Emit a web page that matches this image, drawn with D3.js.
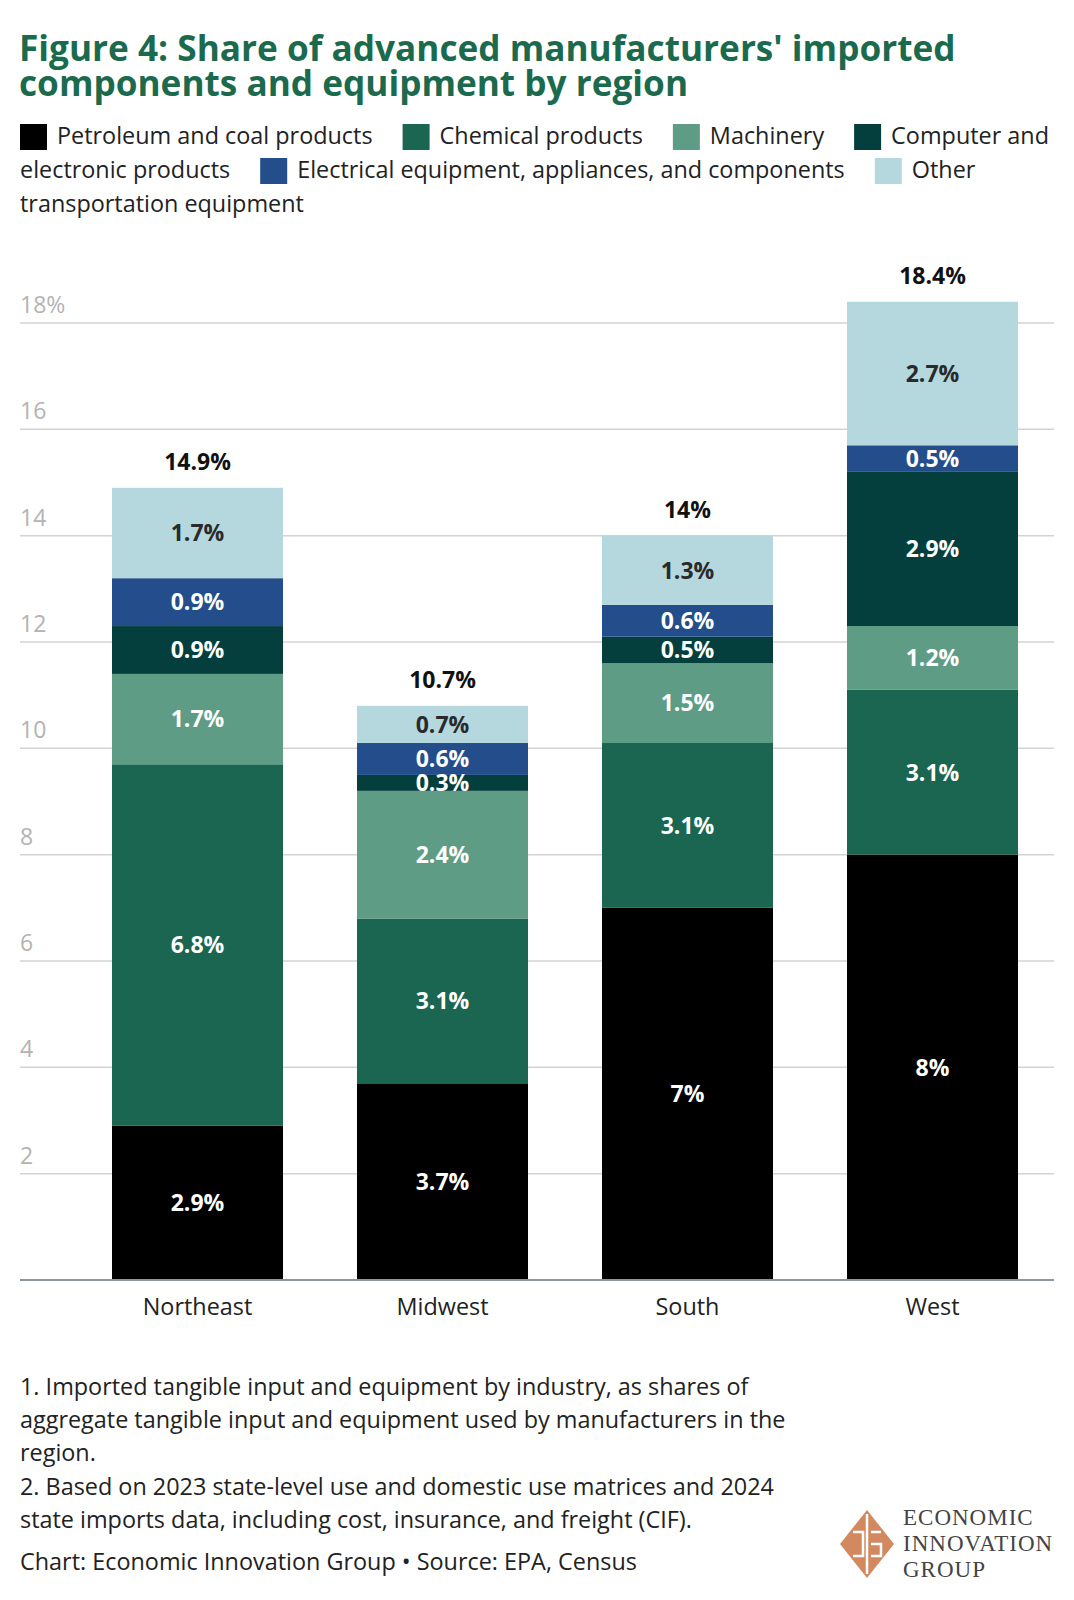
<!DOCTYPE html>
<html>
<head>
<meta charset="utf-8">
<script src="https://cdn.jsdelivr.net/npm/d3@7"></script>
<style>
  body { margin: 0; background: #fff; }
  svg text { font-family: "Open Sans", sans-serif; }
</style>
</head>
<body>
<div id="chart"></div>
<script>
// data
var regions = ["Northeast", "Midwest", "South", "West"];
var seriesNames = [
  "Petroleum and coal products",
  "Chemical products",
  "Machinery",
  "Computer and electronic products",
  "Electrical equipment, appliances, and components",
  "Other transportation equipment"
];
var seriesColors = ["#000000", "#1b6650", "#5e9c85", "#043f3e", "#234e8b", "#b4d8de"];
var labelColors = ["#fff", "#fff", "#fff", "#fff", "#fff", "#2a2a2a"];

var petroleum = [2.9, 3.7, 7, 8];
var chemical = [6.8, 3.1, 3.1, 3.1];
var machinery = [1.7, 2.4, 1.5, 1.2];
var computer = [0.9, 0.3, 0.5, 2.9];
var electrical = [0.9, 0.6, 0.6, 0.5];
var other = [1.7, 0.7, 1.3, 2.7];
var totals = [14.9, 10.7, 14, 18.4];

var yTicks = [2, 4, 6, 8, 10, 12, 14, 16, 18];

var footnotes = [
  "1. Imported tangible input and equipment by industry, as shares of",
  "aggregate tangible input and equipment used by manufacturers in the",
  "region.",
  "2. Based on 2023 state-level use and domestic use matrices and 2024",
  "state imports data, including cost, insurance, and freight (CIF)."
];
var sourceLine = "Chart: Economic Innovation Group \u2022 Source: EPA, Census";

var W = 1074, H = 1600;
var svg = d3.select("#chart").append("svg").attr("width", W).attr("height", H);

// title
var title = svg.append("text").attr("fill", "#1c6a4e").attr("font-weight", 700).attr("font-size", 35.2);
title.append("tspan").attr("x", 19).attr("y", 61).text("Figure 4: Share of advanced manufacturers' imported");
title.append("tspan").attr("x", 19).attr("y", 96).text("components and equipment by region");

// legend, flowing like inline text
var legendFont = 23.4, maxX = 1054, lineH = 34;
var measure = svg.append("text").attr("font-size", legendFont).attr("visibility", "hidden");
function tw(s) { measure.text(s); return measure.node().getComputedTextLength(); }
var spaceW = tw("a b") - tw("ab");
var lx = 20, line = 0, legendTop = 144;
var legend = svg.append("g");
seriesNames.forEach(function(name, i) {
  var words = name.split(" ");
  if (i > 0) lx += 30;
  if (lx + 37 + tw(words[0]) > maxX) { lx = 20; line++; }
  legend.append("rect").attr("x", lx).attr("y", legendTop + line * lineH - 20)
    .attr("width", 27).attr("height", 26).attr("fill", seriesColors[i]);
  lx += 37;
  var seg = [], segX = lx;
  words.forEach(function(w, j) {
    var ww = tw(w);
    var add = (j > 0 && seg.length) ? spaceW : 0;
    if (lx + add + ww > maxX) {
      legend.append("text").attr("x", segX).attr("y", legendTop + line * lineH)
        .attr("font-size", legendFont).attr("fill", "#222").text(seg.join(" "));
      line++; lx = 20; segX = 20; seg = []; add = 0;
    }
    lx += add + ww;
    seg.push(w);
  });
  legend.append("text").attr("x", segX).attr("y", legendTop + line * lineH)
    .attr("font-size", legendFont).attr("fill", "#222").text(seg.join(" "));
});
measure.remove();

// scales
var x = d3.scaleBand().domain(regions).range([112, 1018]).paddingInner(0.302).paddingOuter(0);
var y = d3.scaleLinear().domain([0, 18]).range([1280, 323]);
var plotRight = 1054;

// gridlines + y labels
var grid = svg.append("g");
grid.selectAll("line").data(yTicks).join("line")
  .attr("x1", 20).attr("x2", plotRight).attr("y1", d => y(d)).attr("y2", d => y(d))
  .attr("stroke", "#d3d3d3").attr("stroke-width", 1.5);
grid.selectAll("text").data(yTicks).join("text")
  .attr("x", 20).attr("y", d => y(d) - 10)
  .attr("font-size", 23).attr("fill", "#b3b3b3")
  .text(d => d === 18 ? d + "%" : d);

// stacked bars
var rows = regions.map(function(r, i) {
  return { region: r, s0: petroleum[i], s1: chemical[i], s2: machinery[i], s3: computer[i], s4: electrical[i], s5: other[i] };
});
var keys = ["s0", "s1", "s2", "s3", "s4", "s5"];
var stacked = d3.stack().keys(keys)(rows);

var layers = svg.append("g").selectAll("g").data(stacked).join("g")
  .attr("fill", (d, i) => seriesColors[i]);
layers.selectAll("rect").data(d => d).join("rect")
  .attr("x", d => x(d.data.region)).attr("width", x.bandwidth())
  .attr("y", d => y(d[1])).attr("height", d => y(d[0]) - y(d[1]));

var fmt = v => (+v.toFixed(1)) + "%";
var labels = svg.append("g");
stacked.forEach(function(layer, i) {
  labels.selectAll(null).data(layer).join("text")
    .attr("x", d => x(d.data.region) + x.bandwidth() / 2)
    .attr("y", d => y((d[0] + d[1]) / 2))
    .attr("dy", "0.36em").attr("text-anchor", "middle")
    .attr("font-size", 23).attr("font-weight", 700)
    .attr("fill", labelColors[i])
    .text(d => fmt(d.data[layer.key]));
});

// totals above bars
svg.append("g").selectAll("text").data(rows).join("text")
  .attr("x", d => x(d.region) + x.bandwidth() / 2)
  .attr("y", (d, i) => y(d3.sum(keys, k => d[k])) - 18)
  .attr("text-anchor", "middle").attr("font-size", 23).attr("font-weight", 700).attr("fill", "#111")
  .text((d, i) => fmt(totals[i]));

// x axis
svg.append("line").attr("x1", 20).attr("x2", plotRight).attr("y1", y(0)).attr("y2", y(0))
  .attr("stroke", "#8c969c").attr("stroke-width", 2);
svg.append("g").selectAll("text").data(regions).join("text")
  .attr("x", d => x(d) + x.bandwidth() / 2).attr("y", 1315)
  .attr("text-anchor", "middle").attr("font-size", 23.4).attr("fill", "#222")
  .text(d => d);

// footnotes
svg.append("g").selectAll("text").data(footnotes).join("text")
  .attr("x", 20).attr("y", (d, i) => 1395 + i * 33.2)
  .attr("font-size", 23.4).attr("fill", "#222").text(d => d);
svg.append("text").attr("x", 20).attr("y", 1570)
  .attr("font-size", 23.4).attr("fill", "#222").text(sourceLine);

// logo
var logo = svg.append("g").attr("transform", "translate(867,1544)");
logo.append("path").attr("d", "M0,-34 L27,0 L0,34 L-27,0 Z").attr("fill", "#d2895f");
logo.append("path").attr("d", "M0,-30 L0,30 M-14,-12 L-4,-12 L-4,12 L-14,12 M14,-12 L4,-12 M4,0 L14,0 L14,12 L4,12")
  .attr("fill", "none").attr("stroke", "#fff").attr("stroke-width", 2.5);
var logoText = ["ECONOMIC", "INNOVATION", "GROUP"];
svg.append("g").selectAll("text").data(logoText).join("text")
  .attr("x", 903).attr("y", (d, i) => 1525 + i * 26)
  .style("font-family", "'Liberation Serif', serif")
  .attr("font-size", 23).attr("letter-spacing", 1).attr("fill", "#444").text(d => d);
</script>
</body>
</html>
